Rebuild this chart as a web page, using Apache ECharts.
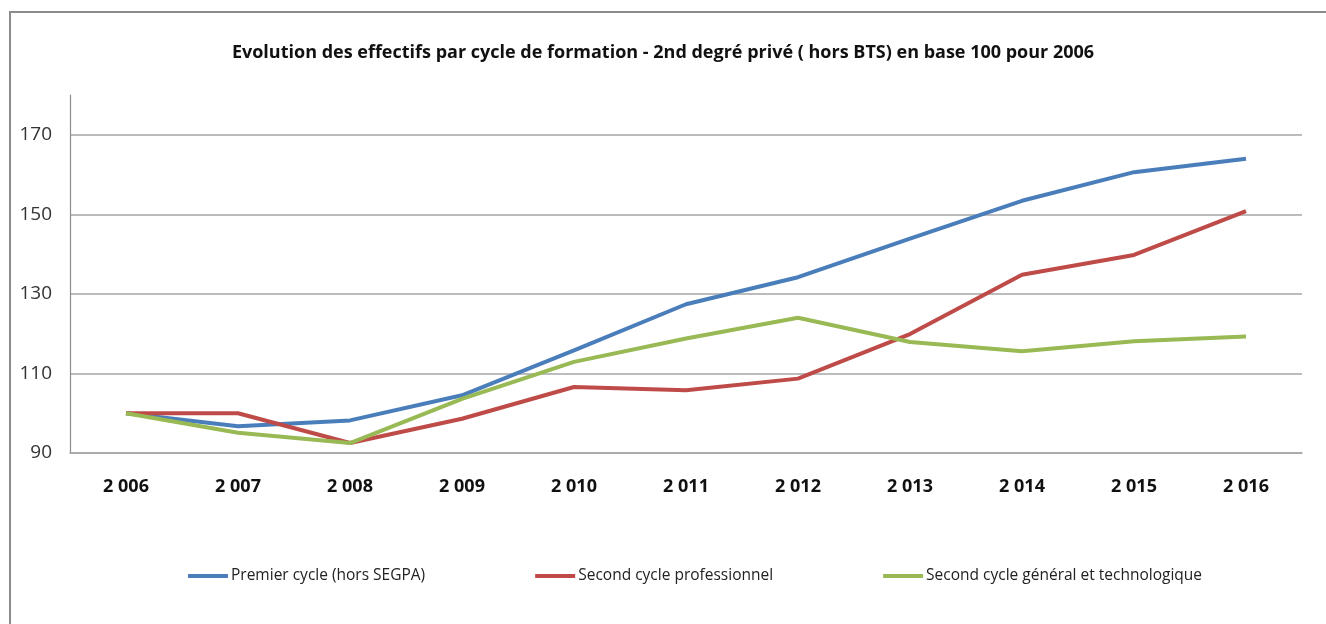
<!DOCTYPE html>
<html>
<head>
    <meta http-equiv="Content-Type" content="text/html; charset=utf-8" />
    <style type="text/css">
        body, html, #chart {width: 100%; height: 100%; overflow: hidden; margin: 0; background: #fff;}
    </style>
    <title>Evolution des effectifs</title>
</head>
<body>
<div id="chart"></div>
<script src="https://cdn.jsdelivr.net/npm/echarts@6/dist/echarts.min.js"></script>
<script type="text/javascript">
    var years = ['2 006', '2 007', '2 008', '2 009', '2 010', '2 011', '2 012', '2 013', '2 014', '2 015', '2 016'];
    var premierCycle = [100, 96.7, 98.2, 104.5, 115.8, 127.4, 134.2, 143.9, 153.4, 160.6, 164];
    var secondPro = [100, 100, 92.5, 98.6, 106.6, 105.8, 108.7, 119.9, 134.8, 139.8, 150.8];
    var secondGT = [100, 95.1, 92.5, 103.6, 112.9, 118.8, 124, 117.9, 115.6, 118.1, 119.3];
    var yTicks = [90, 110, 130, 150, 170];

    var font = '"Open Sans", sans-serif';
    var myChart = echarts.init(document.getElementById('chart'));

    function line(name, data, color) {
        return {
            name: name,
            type: 'line',
            data: data,
            symbol: 'none',
            color: color,
            lineStyle: { width: 4, color: color },
            z: 3
        };
    }

    myChart.setOption({
        animation: false,
        title: {
            text: 'Evolution des effectifs par cycle de formation - 2nd degré privé ( hors BTS) en base 100 pour 2006',
            left: 'center',
            top: 39,
            textStyle: { fontFamily: font, fontSize: 18, fontWeight: 'bold', color: '#111' }
        },
        grid: { left: 70, right: 24, top: 95, bottom: 171 },
        legend: {
            bottom: 35,
            left: 183,
            itemGap: 110,
            itemWidth: 40,
            itemHeight: 4,
            icon: 'rect',
            textStyle: { fontFamily: font, fontSize: 15.5, color: '#222', padding: [0, 0, 0, -2] }
        },
        xAxis: {
            type: 'category',
            data: years,
            axisLine: { lineStyle: { color: '#a6a6a6', width: 1.5 } },
            axisTick: { show: false },
            axisLabel: { margin: 25, fontFamily: font, fontSize: 18, fontWeight: 'bold', color: '#111' }
        },
        yAxis: {
            type: 'value',
            min: 90,
            max: 180,
            axisLine: { show: true, lineStyle: { color: '#8c8c8c', width: 1.2 } },
            axisTick: { show: false, customValues: yTicks },
            axisLabel: { customValues: yTicks, margin: 18, fontFamily: font, fontSize: 19, color: '#333' },
            splitLine: { lineStyle: { color: '#a6a6a6', width: 1.5 } }
        },
        graphic: [{
            type: 'rect',
            shape: { x: 10, y: 12, width: 1340, height: 640 },
            style: { fill: 'none', stroke: '#8c8c8c', lineWidth: 2 },
            silent: true
        }],
        series: [
            line('Premier cycle (hors SEGPA)', premierCycle, '#4a7ebb'),
            line('Second cycle professionnel', secondPro, '#be4b48'),
            line('Second cycle général et technologique', secondGT, '#98b954')
        ]
    });
</script>
</body>
</html>
